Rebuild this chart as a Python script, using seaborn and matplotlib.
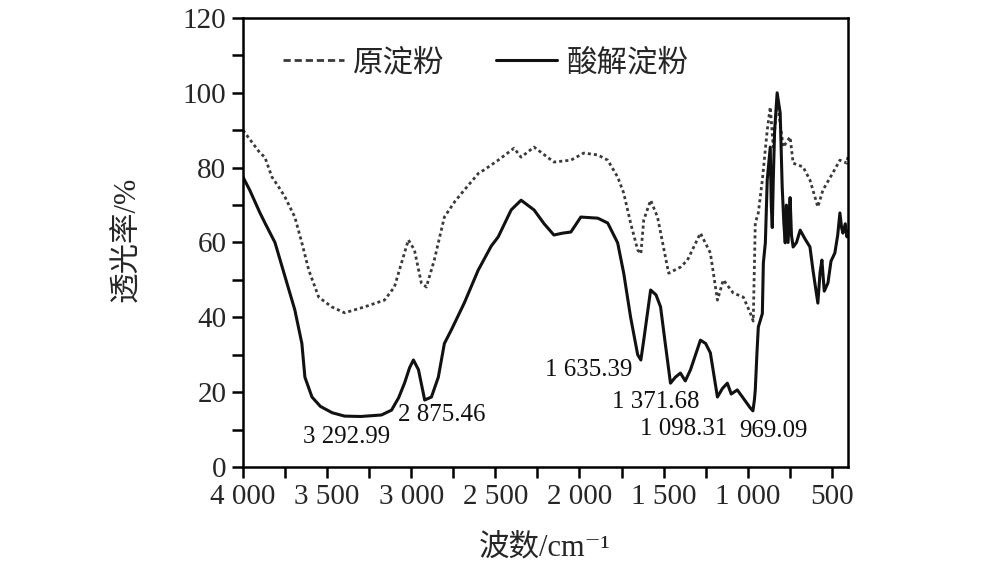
import matplotlib
matplotlib.use('Agg')
import matplotlib.pyplot as plt
import seaborn as sns
from matplotlib.ticker import MultipleLocator, FuncFormatter

# ---------------- data ----------------
series_names = ['原淀粉', '酸解淀粉']

nat_x = [4000, 3950, 3900, 3870, 3828, 3790, 3751, 3692, 3650, 3609, 3550, 3473,
         3396, 3277, 3159, 3100, 3058, 3017, 2981, 2940, 2910, 2863, 2803, 2740,
         2685, 2600, 2567, 2483, 2389, 2347, 2270, 2152, 2051, 1974, 1891, 1832,
         1773, 1737, 1696, 1654, 1635, 1618, 1577, 1536, 1470, 1400, 1358, 1281,
         1222, 1180, 1145, 1086, 1026, 985, 967, 955, 937, 913, 884, 866, 848,
         825, 789, 748, 730, 671, 630, 583, 553, 494, 452, 410, 404]
nat_y = [90, 87, 84, 82.8, 77.5, 75, 72.2, 66.8, 59.9, 52.6, 45.4, 42.8,
         41.2, 42.8, 44.6, 48.1, 54.5, 60.7, 58, 49.2, 48.1, 55.3, 66.8, 71,
         74, 78.5, 79.4, 82, 85.2, 82.8, 85.5, 81.5, 82, 83.9, 83.4, 82,
         77.5, 73.2, 65.2, 58, 57, 66, 71.3, 66.8, 51.8, 53.4, 55.3, 62.5,
         57.2, 44.6, 50, 46.5, 45.4, 41.2, 39, 65.2, 67.9, 76.7, 90, 96.2, 85.5,
         98, 85.5, 88.2, 81.2, 80.2, 76.7, 69.5, 74, 78.6, 82, 81.2, 83]

acid_x = [4000, 3960, 3900, 3867, 3810, 3751, 3692, 3650, 3632, 3590, 3540, 3470,
          3396, 3300, 3177, 3117, 3075, 3040, 3010, 2987, 2957, 2920, 2880, 2839,
          2803, 2762, 2685, 2602, 2525, 2483, 2406, 2347, 2270, 2210, 2152, 2100,
          2051, 1992, 1891, 1832, 1773, 1737, 1696, 1654, 1635, 1618, 1577, 1545,
          1518, 1490, 1459, 1430, 1400, 1371, 1340, 1310, 1281, 1250, 1222, 1180,
          1150, 1121, 1098, 1062, 1020, 985, 969, 960, 955, 945, 937, 913, 907,
          895, 884, 866, 860, 854, 848, 840, 825, 807, 795, 785, 777, 770, 760,
          748, 740, 730, 710, 688, 660, 630, 612, 597, 583, 570, 559, 545, 523,
          505, 482, 465, 452, 442, 434, 420, 410, 404]
acid_y = [77.5, 74, 68, 65, 60, 51, 42, 33, 24, 18.7, 16.2, 14.5,
          13.6, 13.5, 13.9, 15.2, 18.5, 22.4, 26.5, 28.6, 26, 17.9, 18.7, 24,
          33, 36.6, 43.8, 52.6, 59, 61.5, 68.7, 71.3, 68.7, 65, 62, 62.5,
          62.8, 66.8, 66.5, 65.2, 59.9, 51.8, 40, 30, 28.6, 33.9, 47.3, 46,
          42.8, 33, 22.4, 24, 25.1, 23, 26, 30, 33.9, 33, 30.5, 18.7,
          21, 22.4, 19.5, 20.6, 18, 15.8, 15, 18, 20.6, 30.5, 37.4, 41, 54.5,
          60, 76.7, 85.5, 70, 64, 76.7, 90, 100, 94.6, 74.8, 65, 59.9, 70, 60,
          72, 62, 58.8, 60, 63.3, 61, 58.8, 52.6, 48, 43.8, 52, 55.3, 47, 49.2,
          55, 57.2, 62, 67.9, 64, 62.5, 65, 61.5, 63]

peak_labels = ['3 292.99', '2 875.46', '1 635.39', '1 371.68', '1 098.31', '969.09']
peak_label_x = [3384, 2821, 1944, 1547, 1382, 848]
peak_label_y = [8.0, 14.0, 26.0, 17.4, 10.2, 9.6]

# ---------------- style ----------------
sns.set_style('ticks')
plt.rcParams['font.family'] = ['Liberation Serif', 'Noto Sans CJK SC', 'DejaVu Serif']
plt.rcParams['axes.unicode_minus'] = False

fig = plt.figure(figsize=(9.81, 5.82), dpi=100)
ax = fig.add_axes([0.2477, 0.1976, 0.6167, 0.7715])

sns.lineplot(x=nat_x, y=nat_y, ax=ax, color='#3a3a3a', lw=2.0,
             linestyle=(0, (1.1, 1.1)), sort=False, estimator=None,
             label=series_names[0])
sns.lineplot(x=acid_x, y=acid_y, ax=ax, color='#111111', lw=2.2,
             sort=False, estimator=None, label=series_names[1])

ax.set_xlim(4000, 404)
ax.set_ylim(0, 120)
ax.xaxis.set_major_locator(MultipleLocator(500))
ax.xaxis.set_minor_locator(MultipleLocator(250))
ax.yaxis.set_major_locator(MultipleLocator(20))
ax.yaxis.set_minor_locator(MultipleLocator(10))
ax.xaxis.set_major_formatter(FuncFormatter(lambda v, p: f'{int(round(v)):,}'.replace(',', ' ')))
ax.yaxis.set_major_formatter(FuncFormatter(lambda v, p: f'{int(round(v))}'))

ax.tick_params(axis='both', which='both', direction='out', length=8, width=1.8,
               color='black')
ax.tick_params(axis='both', which='major', labelsize=21, pad=4)

for s in ax.spines.values():
    s.set_visible(True)
    s.set_linewidth(1.8)
    s.set_color('black')

ax.set_xlabel('波数/cm⁻¹', fontsize=22)
ax.set_ylabel('透光率/%', fontsize=22)
ax.xaxis.set_label_coords(0.499, -0.18)
ax.xaxis.label.set_va('center')
ax.yaxis.set_label_coords(-0.19, 0.506)
ax.yaxis.label.set_va('center')

for lab, lx, ly in zip(peak_labels, peak_label_x, peak_label_y):
    ax.text(lx, ly, lab, ha='center', va='center', fontsize=18, color='#111111')

leg = ax.legend(loc='upper left', bbox_to_anchor=(0.02, 0.997), ncol=2,
                frameon=False, fontsize=22, handlelength=2.0,
                handletextpad=0.3, columnspacing=1.7)
for t in leg.get_texts():
    t.set_fontfamily(['Noto Sans CJK SC', 'DejaVu Sans'])
leg.get_lines()[0].set_linestyle((0, (2.6, 1.4)))

fig.savefig('out.png', dpi=100)
